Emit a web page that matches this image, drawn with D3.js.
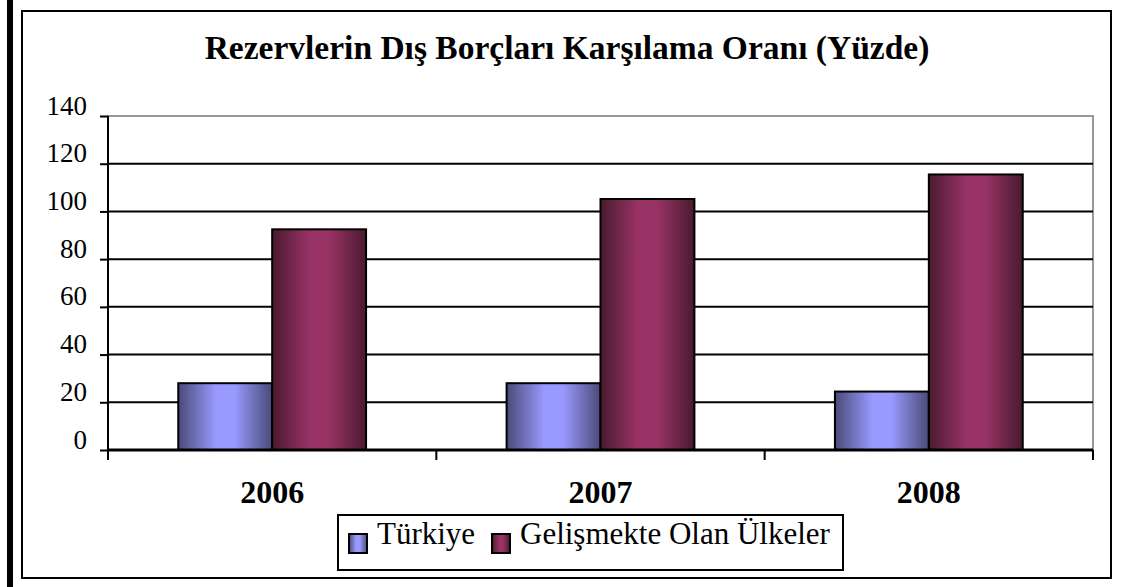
<!DOCTYPE html>
<html>
<head>
<meta charset="utf-8">
<script src="https://cdn.jsdelivr.net/npm/d3@7"></script>
<style>
  body { margin: 0; background: #fff; }
  text { font-family: "Liberation Serif", "DejaVu Serif", serif; fill: #000; }
</style>
</head>
<body>
<div id="chart"></div>
<script>
"use strict";

var years = ["2006", "2007", "2008"];
var seriesNames = ["Türkiye", "Gelişmekte Olan Ülkeler"];
var turkiye = [28, 28, 24.5];
var gelismekte = [92.5, 105.2, 115.5];
var yTicks = [0, 20, 40, 60, 80, 100, 120, 140];
var title = "Rezervlerin Dış Borçları Karşılama Oranı (Yüzde)";

var W = 1121, H = 587;
var plot = { left: 108, right: 1093, top: 116, bottom: 450 };

var svg = d3.select("#chart").append("svg").attr("width", W).attr("height", H);

// gradients for the bars
var defs = svg.append("defs");
var grads = [
  { id: "gTr", edge: "#4a4a78", mid: "#9999ff" },
  { id: "gGe", edge: "#4a1a30", mid: "#993366" }
];
grads.forEach(function (g) {
  var lg = defs.append("linearGradient").attr("id", g.id).attr("x1", "0").attr("x2", "1").attr("y1", "0").attr("y2", "0");
  lg.append("stop").attr("offset", "0%").attr("stop-color", g.edge);
  lg.append("stop").attr("offset", "40%").attr("stop-color", g.mid);
  lg.append("stop").attr("offset", "60%").attr("stop-color", g.mid);
  lg.append("stop").attr("offset", "100%").attr("stop-color", g.edge);
});

// left thick bar and outer frame
svg.append("rect").attr("x", 7).attr("y", 0).attr("width", 6).attr("height", H).attr("fill", "#000");
svg.append("rect").attr("x", 22).attr("y", 11).attr("width", 1089).attr("height", 567)
  .attr("fill", "none").attr("stroke", "#000").attr("stroke-width", 2);

svg.append("text").attr("x", 567).attr("y", 59).attr("text-anchor", "middle")
  .attr("font-size", 33.5).attr("font-weight", "bold").text(title);

var x0 = d3.scaleBand().domain(years).range([plot.left, plot.right]).paddingInner(0).paddingOuter(0);
var y = d3.scaleLinear().domain([0, 140]).range([plot.bottom, plot.top]);

var groupW = x0.bandwidth() * 0.572;
var x1 = d3.scaleBand().domain(seriesNames).range([0, groupW]);

// plot border (gray) and gridlines
svg.append("rect").attr("x", plot.left).attr("y", plot.top).attr("width", plot.right - plot.left).attr("height", plot.bottom - plot.top)
  .attr("fill", "none").attr("stroke", "#999").attr("stroke-width", 2);

svg.append("g").selectAll("line").data(yTicks.filter(function (d) { return d > 0 && d < 140; })).enter().append("line")
  .attr("x1", plot.left).attr("x2", plot.right)
  .attr("y1", function (d) { return y(d); }).attr("y2", function (d) { return y(d); })
  .attr("stroke", "#000").attr("stroke-width", 2);

// y axis
var yAxis = d3.axisLeft(y).tickValues(yTicks).tickSize(8).tickPadding(13);
var ya = svg.append("g").attr("transform", "translate(" + plot.left + ",0)").call(yAxis);
ya.select(".domain").remove();
ya.selectAll(".tick line").attr("stroke", "#000").attr("stroke-width", 2);
ya.selectAll(".tick text").attr("font-size", 27).attr("font-family", "Liberation Serif").attr("dy", "-2px");
svg.append("line").attr("x1", plot.left).attr("x2", plot.left).attr("y1", plot.top).attr("y2", plot.bottom + 10)
  .attr("stroke", "#000").attr("stroke-width", 2);

// bars
var data = years.map(function (yr, i) {
  return { year: yr, values: [{ name: seriesNames[0], v: turkiye[i] }, { name: seriesNames[1], v: gelismekte[i] }] };
});
var groups = svg.append("g").selectAll("g").data(data).enter().append("g")
  .attr("transform", function (d) { return "translate(" + (x0(d.year) + (x0.bandwidth() - groupW) / 2) + ",0)"; });
groups.selectAll("rect").data(function (d) { return d.values; }).enter().append("rect")
  .attr("x", function (d) { return x1(d.name); })
  .attr("width", x1.bandwidth())
  .attr("y", function (d) { return y(d.v); })
  .attr("height", function (d) { return y(0) - y(d.v); })
  .attr("fill", function (d, i) { return i === 0 ? "url(#gTr)" : "url(#gGe)"; })
  .attr("stroke", "#000").attr("stroke-width", 2);

// x axis
var xAxis = d3.axisBottom(x0).tickSize(0);
var xa = svg.append("g").attr("transform", "translate(0," + plot.bottom + ")").call(xAxis);
xa.select(".domain").remove();
xa.selectAll(".tick text").attr("font-size", 32).attr("font-weight", "bold").attr("font-family", "Liberation Serif")
  .attr("y", 53).attr("dy", 0);
svg.append("line").attr("x1", plot.left).attr("x2", plot.right).attr("y1", plot.bottom).attr("y2", plot.bottom)
  .attr("stroke", "#000").attr("stroke-width", 3);
svg.append("g").selectAll("line").data(years).enter().append("line")
  .attr("x1", function (d) { return x0(d) + x0.bandwidth(); }).attr("x2", function (d) { return x0(d) + x0.bandwidth(); })
  .attr("y1", plot.bottom).attr("y2", plot.bottom + 10).attr("stroke", "#000").attr("stroke-width", 2);

// legend
var lg = svg.append("g");
lg.append("rect").attr("x", 338).attr("y", 515).attr("width", 505).attr("height", 55)
  .attr("fill", "#fff").attr("stroke", "#000").attr("stroke-width", 2);
var legX = [349, 492];
seriesNames.forEach(function (n, i) {
  lg.append("rect").attr("x", legX[i]).attr("y", 534).attr("width", 18).attr("height", 19)
    .attr("fill", i === 0 ? "url(#gTr)" : "url(#gGe)").attr("stroke", "#000").attr("stroke-width", 2);
  lg.append("text").attr("x", legX[i] + 28).attr("y", 544).attr("font-size", 31).text(n);
});
</script>
</body>
</html>
